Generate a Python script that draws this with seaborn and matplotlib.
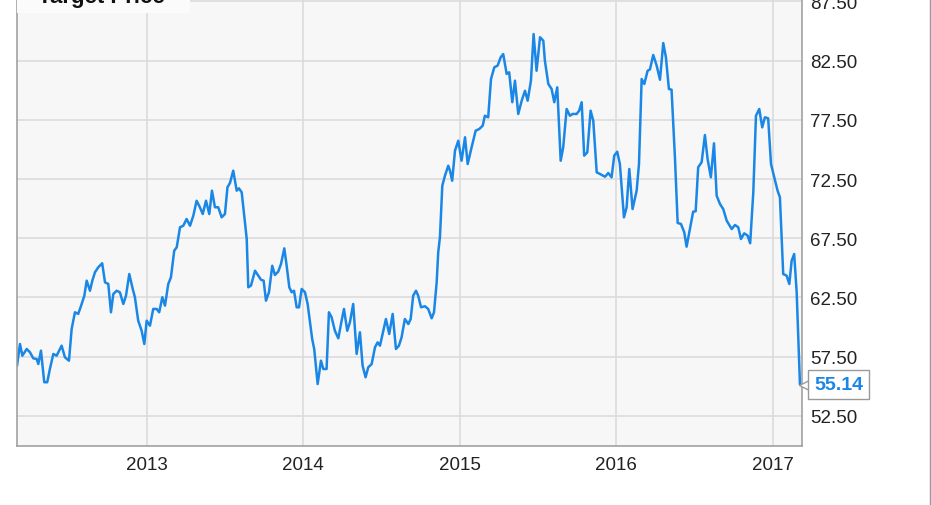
import pandas as pd
import seaborn as sns
import matplotlib.pyplot as plt
import matplotlib.dates as mdates
import matplotlib.transforms as mtransforms
from matplotlib.lines import Line2D
from matplotlib.patches import Rectangle

# Target price (time in decimal years)
years = [
    2012.172, 2012.191, 2012.206, 2012.234, 2012.255, 2012.276, 2012.298, 2012.308,
    2012.325, 2012.346, 2012.365, 2012.382, 2012.404, 2012.425, 2012.457, 2012.478,
    2012.504, 2012.521, 2012.542, 2012.563, 2012.585, 2012.602, 2012.617, 2012.638,
    2012.653, 2012.670, 2012.691, 2012.716, 2012.734, 2012.755, 2012.772, 2012.787,
    2012.808, 2012.829, 2012.851, 2012.868, 2012.889, 2012.911, 2012.925, 2012.946,
    2012.968, 2012.985, 2013.000, 2013.021, 2013.042, 2013.064, 2013.080, 2013.100,
    2013.117, 2013.138, 2013.155, 2013.176, 2013.192, 2013.213, 2013.234, 2013.255,
    2013.277, 2013.298, 2013.319, 2013.340, 2013.358, 2013.379, 2013.400, 2013.417,
    2013.436, 2013.457, 2013.479, 2013.500, 2013.516, 2013.532, 2013.553, 2013.575,
    2013.589, 2013.607, 2013.623, 2013.639, 2013.649, 2013.666, 2013.692, 2013.713,
    2013.730, 2013.747, 2013.762, 2013.781, 2013.802, 2013.819, 2013.840, 2013.858,
    2013.879, 2013.894, 2013.911, 2013.926, 2013.941, 2013.958, 2013.973, 2013.990,
    2014.011, 2014.028, 2014.043, 2014.057, 2014.070, 2014.092, 2014.113, 2014.128,
    2014.149, 2014.164, 2014.181, 2014.202, 2014.224, 2014.245, 2014.260, 2014.281,
    2014.298, 2014.319, 2014.341, 2014.362, 2014.379, 2014.398, 2014.415, 2014.437,
    2014.458, 2014.475, 2014.490, 2014.511, 2014.528, 2014.549, 2014.571, 2014.592,
    2014.611, 2014.628, 2014.649, 2014.671, 2014.686, 2014.702, 2014.720, 2014.734,
    2014.752, 2014.777, 2014.798, 2014.820, 2014.835, 2014.852, 2014.862, 2014.873,
    2014.888, 2014.905, 2014.926, 2014.937, 2014.951, 2014.969, 2014.990, 2015.011,
    2015.033, 2015.050, 2015.075, 2015.101, 2015.124, 2015.146, 2015.160, 2015.181,
    2015.199, 2015.220, 2015.241, 2015.261, 2015.277, 2015.299, 2015.315, 2015.335,
    2015.352, 2015.373, 2015.395, 2015.416, 2015.433, 2015.454, 2015.471, 2015.490,
    2015.512, 2015.533, 2015.543, 2015.565, 2015.586, 2015.603, 2015.622, 2015.644,
    2015.660, 2015.682, 2015.703, 2015.720, 2015.746, 2015.762, 2015.778, 2015.794,
    2015.814, 2015.835, 2015.852, 2015.874, 2015.895, 2015.927, 2015.948, 2015.969,
    2015.986, 2016.005, 2016.022, 2016.048, 2016.065, 2016.082, 2016.103, 2016.129,
    2016.144, 2016.161, 2016.178, 2016.199, 2016.214, 2016.235, 2016.257, 2016.278,
    2016.299, 2016.316, 2016.335, 2016.352, 2016.374, 2016.391, 2016.412, 2016.433,
    2016.448, 2016.469, 2016.490, 2016.506, 2016.522, 2016.544, 2016.565, 2016.582,
    2016.603, 2016.623, 2016.640, 2016.661, 2016.682, 2016.704, 2016.736, 2016.757,
    2016.778, 2016.795, 2016.816, 2016.838, 2016.854, 2016.874, 2016.891, 2016.912,
    2016.931, 2016.948, 2016.969, 2016.987, 2017.008, 2017.029, 2017.044, 2017.065,
    2017.087, 2017.104, 2017.119, 2017.135, 2017.151, 2017.172,
]
prices = [
    56.74, 58.57, 57.58, 58.15, 57.87, 57.36, 57.30, 56.88,
    58.01, 55.34, 55.34, 56.46, 57.73, 57.58, 58.43, 57.45,
    57.16, 59.84, 61.25, 61.11, 61.95, 62.65, 63.92, 63.07,
    63.92, 64.63, 65.05, 65.39, 63.78, 63.64, 61.25, 62.79,
    63.07, 62.94, 61.95, 62.65, 64.48, 63.22, 62.52, 60.54,
    59.69, 58.57, 60.54, 60.12, 61.53, 61.53, 61.25, 62.52,
    61.81, 63.64, 64.20, 66.45, 66.74, 68.43, 68.56, 69.13,
    68.56, 69.41, 70.67, 70.12, 69.55, 70.67, 69.55, 71.52,
    70.12, 70.12, 69.27, 69.55, 71.81, 72.17, 73.21, 71.52,
    71.72, 71.38, 69.41, 67.44, 63.36, 63.50, 64.76, 64.34,
    64.00, 63.92, 62.23, 62.94, 65.18, 64.40, 64.68, 65.33,
    66.65, 65.18, 63.36, 62.94, 63.07, 61.67, 61.67, 63.22,
    62.94, 61.95, 60.40, 58.99, 58.15, 55.19, 57.16, 56.46,
    56.46, 61.25, 60.83, 59.69, 59.05, 60.54, 61.53, 59.69,
    60.40, 61.95, 57.73, 59.56, 56.74, 55.76, 56.60, 56.88,
    58.29, 58.71, 58.43, 59.69, 60.68, 59.42, 61.11, 58.15,
    58.43, 59.14, 60.68, 60.26, 60.68, 62.65, 63.07, 62.65,
    61.67, 61.76, 61.53, 60.74, 61.25, 63.78, 66.32, 67.61,
    71.94, 72.79, 73.63, 73.21, 72.36, 74.90, 75.74, 74.05,
    76.03, 73.77, 75.18, 76.59, 76.73, 77.01, 77.85, 77.72,
    80.95, 81.94, 82.08, 82.79, 83.06, 81.38, 81.52, 78.99,
    80.81, 78.00, 79.12, 79.96, 79.12, 80.81, 84.75, 81.65,
    84.48, 84.19, 82.50, 80.53, 80.11, 78.99, 80.25, 74.05,
    75.18, 78.42, 77.85, 78.00, 78.00, 78.28, 78.99, 74.48,
    74.76, 78.28, 77.43, 73.07, 72.93, 72.70, 73.01, 72.65,
    74.48, 74.81, 73.77, 69.27, 70.12, 73.35, 69.97, 71.52,
    73.77, 80.95, 80.53, 81.65, 81.76, 82.98, 82.08, 80.89,
    83.99, 82.79, 80.11, 80.05, 74.20, 68.79, 68.71, 68.01,
    66.79, 68.28, 69.75, 69.78, 73.50, 73.92, 76.22, 74.20,
    72.65, 75.52, 71.10, 70.40, 69.97, 68.99, 68.28, 68.62,
    68.43, 67.44, 67.92, 67.72, 67.08, 71.38, 77.85, 78.42,
    76.87, 77.72, 77.63, 73.77, 72.65, 71.52, 70.96, 64.48,
    64.34, 63.64, 65.61, 66.17, 62.94, 55.14,
]
y_ticks = [52.5, 57.5, 62.5, 67.5, 72.5, 77.5, 82.5, 87.5]
series_name = "Target Price"


def to_date(y):
    return pd.Timestamp("2013-01-01") + pd.to_timedelta((y - 2013) * 365.25, unit="D")


df = pd.DataFrame({"date": [to_date(y) for y in years], "price": prices})

sns.set_style("white")
plt.rcParams["font.family"] = ["Liberation Sans", "DejaVu Sans"]

blue = "#1a87e6"
fig = plt.figure(figsize=(9.31, 5.06), dpi=100)
ax = fig.add_axes([17 / 931, 1 - 447.3 / 506, 785 / 931, 447.3 / 506])
ax.set_facecolor("#f7f7f7")

sns.lineplot(data=df, x="date", y="price", color=blue, linewidth=1.8, ax=ax)

ax.set_xlim(to_date(2012.172), to_date(2017.185))
ax.set_ylim(49.93, 87.71)
ax.set_yticks(y_ticks)
ax.yaxis.set_major_formatter(plt.FuncFormatter(lambda v, p: f"{v:.2f}"))
ax.yaxis.tick_right()
ax.xaxis.set_major_locator(mdates.YearLocator())
ax.xaxis.set_major_formatter(mdates.DateFormatter("%Y"))
ax.tick_params(axis="both", length=0, labelsize=13.5, colors="#222222")
ax.tick_params(axis="y", pad=6)
ax.tick_params(axis="x", pad=7)
ax.set_xlabel("")
ax.set_ylabel("")
ax.grid(True, color="#dadada", linewidth=1.1)
for side in ["left", "bottom", "right"]:
    ax.spines[side].set_color("#9a9a9a")
    ax.spines[side].set_linewidth(1.1)
ax.spines["top"].set_visible(False)

# legend box, cut off at the top of the picture
ax.add_patch(Rectangle((0, 1 - 14 / 447.3), 173 / 785, 14 / 447.3, transform=ax.transAxes,
                       facecolor="#fbfbfb", edgecolor="none", zorder=3))
fig.text(38 / 931, 1 - 3 / 506, series_name, fontsize=16, fontweight="bold",
         color="#111111", va="baseline", ha="left", zorder=4)

# last value callout
last_x, last_y = df["date"].iloc[-1], df["price"].iloc[-1]
tip = mtransforms.offset_copy(ax.transData, fig=fig, x=5, y=0, units="dots")
ax.plot([last_x], [last_y], marker="<", markersize=9, markerfacecolor="white",
        markeredgecolor="#9a9a9a", markeredgewidth=1, transform=tip, clip_on=False, zorder=5)
ax.annotate(f"{last_y:.2f}", xy=(last_x, last_y), xytext=(14, 0), textcoords="offset pixels",
            ha="left", va="center", fontsize=14, fontweight="bold", color=blue,
            annotation_clip=False, zorder=6,
            bbox=dict(boxstyle="square,pad=0.3", fc="white", ec="#9a9a9a", lw=1))

fig.add_artist(Line2D([929.5 / 931, 929.5 / 931], [0, 1], color="#9a9a9a", lw=1))

fig.savefig("out.png", dpi=100)
